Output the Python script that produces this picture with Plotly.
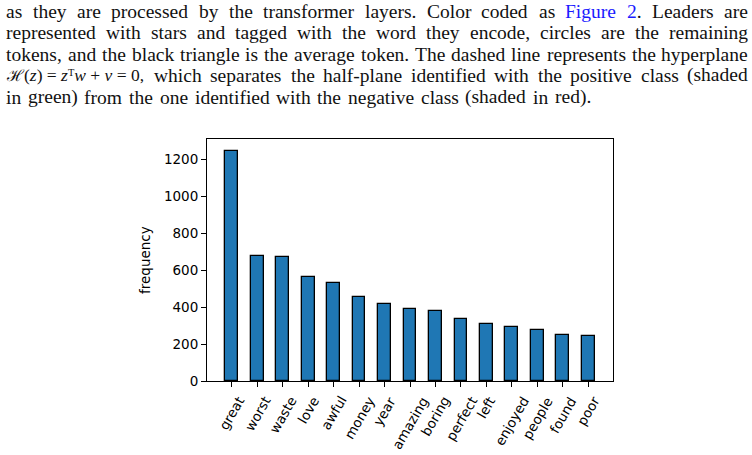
import plotly.graph_objects as go

# ---- data ----
words = ["great", "worst", "waste", "love", "awful", "money", "year", "amazing",
         "boring", "perfect", "left", "enjoyed", "people", "found", "poor"]
freq = [1250, 677, 671, 565, 534, 458, 416, 393, 382, 335, 309, 293, 274, 252, 243]
y_ticks = [0, 200, 400, 600, 800, 1000, 1200]

# caption lines (plain words; "Figure 2" rendered blue)
caption_lines = [
    "as they are processed by the transformer layers.  Color coded as Figure 2.  Leaders are",
    "represented with stars and tagged with the word they encode, circles are the remaining",
    "tokens, and the black triangle is the average token.  The dashed line represents the hyperplane",
    "which separates the half-plane identified with the positive class (shaded",
    "in green) from the one identified with the negative class (shaded in red).",
]
math_prefix = ("<span style='font-size:16px'>\u210B</span>(<i>z</i>) = <i>z</i>"
               "\u1D40<i>w</i> + <i>v</i> = 0,")

# Times/Liberation Serif advance widths (per 1000 em) used to justify lines
TW = {' ': 250, ',': 250, '.': 250, '(': 333, ')': 333, '-': 333, '2': 500, '0': 500,
      'C': 667, 'F': 556, 'L': 611, 'T': 611,
      'a': 444, 'b': 500, 'c': 444, 'd': 500, 'e': 444, 'f': 333, 'g': 500, 'h': 500,
      'i': 278, 'j': 278, 'k': 500, 'l': 278, 'm': 778, 'n': 500, 'o': 500, 'p': 500,
      'q': 500, 'r': 333, 's': 389, 't': 278, 'u': 500, 'v': 500, 'w': 722, 'x': 500,
      'y': 500, 'z': 444}

W, H = 752, 455
X0, X1 = 207, 613   # plot area pixels
Y0, Y1 = 139, 381

def px(x):
    return (x - X0) / (X1 - X0)

def py(y):
    return (Y1 - y) / (Y1 - Y0)

def wwidth(s, size):
    return sum(TW.get(ch, 500) for ch in s) / 1000.0 * size

fig = go.Figure()
fig.add_trace(go.Bar(
    x=list(range(len(words))), y=freq, width=0.5,
    marker=dict(color="#1f77b4", line=dict(color="black", width=1.3)),
))

ann = []
FS = 19.5
cap_font = dict(family="Liberation Serif", size=FS, color="#111")
baselines = [17.5, 39, 60.5, 82, 103.5]
line_start = [5, 5, 5, 153, 5]
line_end = [747, 747, 747, 747, 590]

for line, b, xs, xe in zip(caption_lines, baselines, line_start, line_end):
    toks = line.split()
    widths = [wwidth(t, FS) for t in toks]
    gap = (xe - xs - sum(widths)) / (len(toks) - 1)
    x = xs
    for t, wd in zip(toks, widths):
        html = t
        if t == "Figure":
            html = "<span style='color:#1a1aff'>Figure</span>"
        elif t == "2.":
            html = "<span style='color:#1a1aff'>2</span>."
        ann.append(dict(text=html, xref="paper", yref="paper", x=px(x), y=py(b + 5),
                        xanchor="left", yanchor="bottom", showarrow=False,
                        borderpad=0, font=cap_font))
        x += wd + gap

ann.append(dict(text=math_prefix, xref="paper", yref="paper", x=px(5), y=py(82 + 4.5),
                xanchor="left", yanchor="bottom", showarrow=False, borderpad=0,
                font=dict(family="Liberation Serif", size=17.5, color="#111")))

# x tick labels (rotated, centred on ticks like matplotlib)
for i, w in enumerate(words):
    ann.append(dict(text=w, x=i, xref="x", yref="paper", y=py(391),
                    xanchor="center", yanchor="top", textangle=-60, showarrow=False,
                    font=dict(family="DejaVu Sans", size=13.5, color="black")))

ann.append(dict(text="frequency", xref="paper", yref="paper", x=px(155), y=py(260),
                xanchor="right", yanchor="middle", textangle=-90, showarrow=False,
                font=dict(family="DejaVu Sans", size=13.5, color="black")))

fig.update_layout(
    width=W, height=H,
    margin=dict(l=X0, r=W - X1, t=Y0, b=H - Y1, pad=0),
    paper_bgcolor="white", plot_bgcolor="white",
    showlegend=False, bargap=0,
    annotations=ann,
    xaxis=dict(range=[-0.975, 14.975], tickmode="array", tickvals=list(range(len(words))),
               showticklabels=False, ticks="outside", ticklen=5, tickcolor="black",
               showline=True, linecolor="black", linewidth=1, mirror=True,
               showgrid=False, zeroline=False),
    yaxis=dict(range=[0, 1312.5], tickmode="array", tickvals=y_ticks,
               ticks="outside", ticklen=5, tickcolor="black",
               tickfont=dict(family="DejaVu Sans", size=13.5, color="black"),
               showline=True, linecolor="black", linewidth=1, mirror=True,
               showgrid=False, zeroline=False),
)

fig.write_html("out.html")
